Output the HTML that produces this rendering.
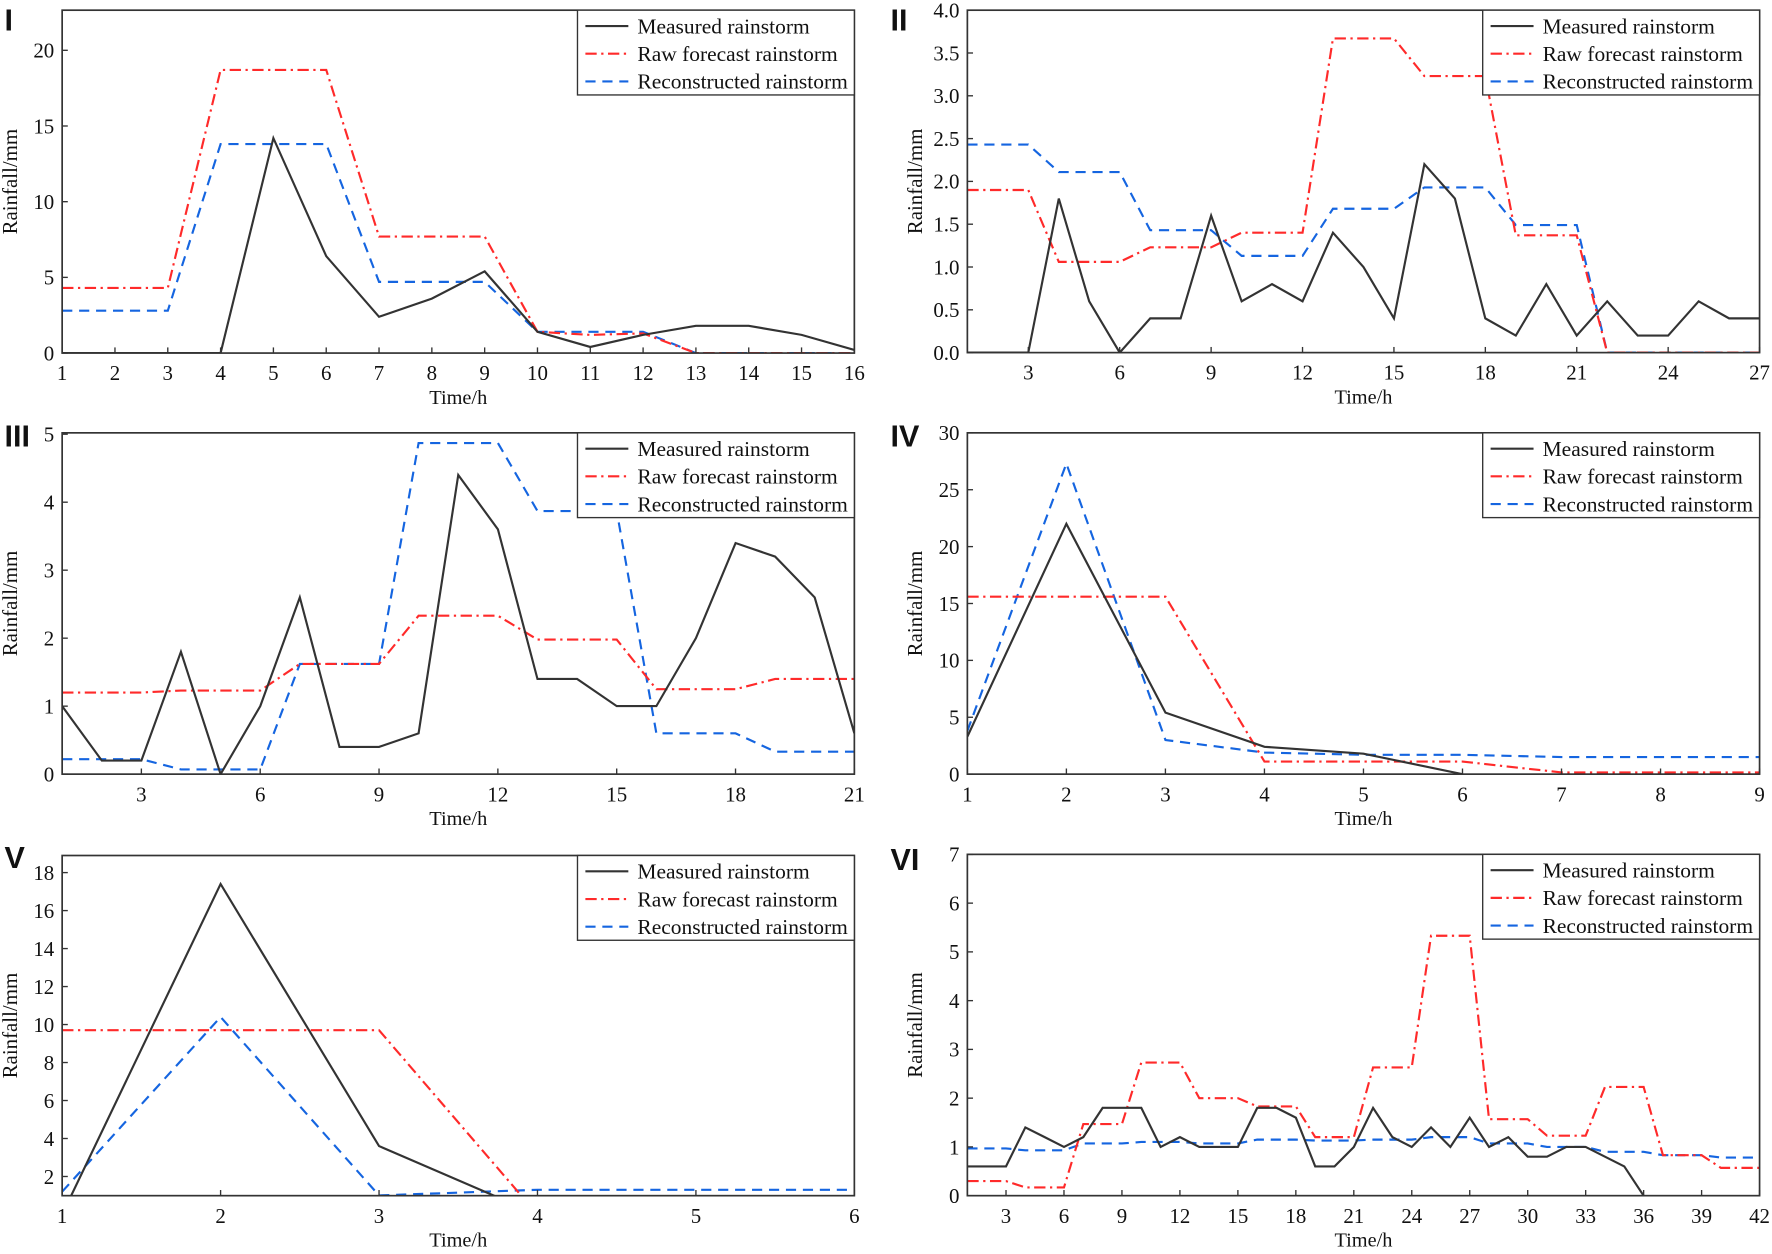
<!DOCTYPE html>
<html><head><meta charset="utf-8"><style>
html,body{margin:0;padding:0;background:#fff;}
svg{display:block;}
text{font-family:"Liberation Serif",serif;fill:#111;}
.pl{font-family:"Liberation Sans",sans-serif;font-weight:bold;font-size:27px;}
</style></head><body>
<svg id="s" width="1772" height="1254" viewBox="0 0 1568 1109.6" xmlns="http://www.w3.org/2000/svg"></svg>
<script>
const NS="http://www.w3.org/2000/svg",S=document.getElementById('s');
function el(t,a,txt){const e=document.createElementNS(NS,t);for(const k in a)e.setAttribute(k,a[k]);if(txt!==undefined)e.textContent=txt;S.appendChild(e);return e;}
function rep(a){let o=[];for(const [v,n] of a)for(let i=0;i<n;i++)o.push(v);return o;}
const C={m:'#333',r:'#ff2a2a',b:'#1565e0'};
const D={m:null,r:'10,4,2,4',b:'9,6'};
const panels=[
{lab:'I',lx:4,ly:27,L:55,R:756,T:9,B:312.4,x0:1,x1:16,y0:0,y1:22.65,xt:[1,2,3,4,5,6,7,8,9,10,11,12,13,14,15,16],yt:[0,5,10,15,20],dec:0,
 m:[0,0,0,0,14.2,6.4,2.4,3.6,5.4,1.4,0.4,1.2,1.8,1.8,1.2,0.2],
 r:rep([[4.3,3],[18.7,3],[7.7,3]]).concat([1.4,1.2,1.3,0,0,0,0]),
 b:rep([[2.8,3],[13.8,3],[4.7,3],[1.4,3],[0,4]])},
{lab:'II',lx:788,ly:27,L:856,R:1557,T:9,B:312,x0:1,x1:27,y0:0,y1:4,xt:[3,6,9,12,15,18,21,24,27],yt:[0,0.5,1,1.5,2,2.5,3,3.5,4],dec:1,
 m:[0,0,0,1.8,0.6,0,0.4,0.4,1.6,0.6,0.8,0.6,1.4,1.0,0.4,2.2,1.8,0.4,0.2,0.8,0.2,0.6,0.2,0.2,0.6,0.4,0.4],
 r:rep([[1.9,3],[1.06,3],[1.23,3],[1.4,3],[3.67,3],[3.23,3],[1.37,3],[0,6]]),
 b:rep([[2.43,3],[2.11,3],[1.43,3],[1.13,3],[1.68,3],[1.93,3],[1.49,3],[0,6]])},
{lab:'III',lx:4,ly:395,L:55,R:756,T:383,B:685,x0:1,x1:21,y0:0,y1:5.02,xt:[3,6,9,12,15,18,21],yt:[0,1,2,3,4,5],dec:0,
 m:[1.0,0.2,0.2,1.8,0,1.0,2.6,0.4,0.4,0.6,4.4,3.6,1.4,1.4,1.0,1.0,2.0,3.4,3.2,2.6,0.6],
 r:rep([[1.2,3],[1.23,3],[1.62,3],[2.33,3],[1.98,3],[1.25,3],[1.4,3]]),
 b:rep([[0.22,3],[0.07,3],[1.62,3],[4.87,3],[3.87,3],[0.6,3],[0.33,3]])},
{lab:'IV',lx:788,ly:395,L:856,R:1557,T:383,B:685,x0:1,x1:9,y0:0,y1:30,xt:[1,2,3,4,5,6,7,8,9],yt:[0,5,10,15,20,25,30],dec:0,
 m:[3.3,22,5.4,2.4,1.8,0],
 r:[15.6,15.6,15.6,1.1,1.1,1.1,0.15,0.15,0.15],
 b:[3.8,27.3,3.0,1.9,1.7,1.7,1.5,1.5,1.5]},
{lab:'V',lx:4,ly:768,L:55,R:756,T:757,B:1058,x0:1,x1:6,y0:0.99,y1:18.9,xt:[1,2,3,4,5,6],yt:[2,4,6,8,10,12,14,16,18],dec:0,
 m:[0,17.4,3.6,0],
 r:[9.7,9.7,9.7,0],
 b:[1.2,10.4,1.0,1.3,1.3,1.3]},
{lab:'VI',lx:788,ly:770,L:856,R:1557,T:756,B:1058,x0:1,x1:42,y0:0,y1:7,xt:[3,6,9,12,15,18,21,24,27,30,33,36,39,42],yt:[0,1,2,3,4,5,6,7],dec:0,
 m:[0.6,0.6,0.6,1.4,1.2,1.0,1.2,1.8,1.8,1.8,1.0,1.2,1.0,1.0,1.0,1.8,1.8,1.6,0.6,0.6,1.0,1.8,1.2,1.0,1.4,1.0,1.6,1.0,1.2,0.8,0.8,1.0,1.0,0.8,0.6,0],
 r:rep([[0.3,3],[0.17,3],[1.47,3],[2.73,3],[2.0,3],[1.83,3],[1.2,3],[2.63,3],[5.33,3],[1.57,3],[1.23,3],[2.23,3],[0.83,3],[0.57,3]]),
 b:rep([[0.97,3],[0.93,3],[1.07,3],[1.1,3],[1.07,3],[1.15,3],[1.13,3],[1.15,3],[1.2,3],[1.07,3],[1.0,3],[0.9,3],[0.83,3],[0.78,3]])}
];
panels.forEach((p,i)=>{
 const X=v=>p.L+(v-p.x0)/(p.x1-p.x0)*(p.R-p.L), Y=v=>p.B-(v-p.y0)/(p.y1-p.y0)*(p.B-p.T);
 const cid='c'+i;
 const cp=el('clipPath',{id:cid});const rc=document.createElementNS(NS,'rect');
 rc.setAttribute('x',p.L);rc.setAttribute('y',p.T);rc.setAttribute('width',p.R-p.L);rc.setAttribute('height',p.B-p.T);cp.appendChild(rc);
 ['b','r','m'].forEach(k=>{
  const pts=p[k].map((v,j)=>X(p.x0+j).toFixed(1)+','+Y(v).toFixed(1)).join(' ');
  const a={points:pts,fill:'none',stroke:C[k],'stroke-width':1.9,'clip-path':'url(#'+cid+')'};
  if(D[k])a['stroke-dasharray']=D[k];
  el('polyline',a);
 });
 el('rect',{x:p.L,y:p.T,width:p.R-p.L,height:p.B-p.T,fill:'none',stroke:'#333','stroke-width':1.5});
 p.xt.forEach(v=>{const x=X(v);el('line',{x1:x,y1:p.B,x2:x,y2:p.B-5,stroke:'#333','stroke-width':1.2});
  el('text',{x:x,y:p.B+24,'text-anchor':'middle','font-size':18.5},String(v));});
 p.yt.forEach(v=>{const y=Y(v);el('line',{x1:p.L,y1:y,x2:p.L+5,y2:y,stroke:'#333','stroke-width':1.2});
  el('text',{x:p.L-7,y:y+6.5,'text-anchor':'end','font-size':18.5},v.toFixed(p.dec));});
 el('text',{x:(p.L+p.R)/2,y:p.B+45,'text-anchor':'middle','font-size':18},'Time/h');
 const cy=(p.T+p.B)/2, ax=p.L-40;
 el('text',{x:ax,y:cy,'text-anchor':'middle','font-size':18.5,transform:'rotate(-90 '+ax+' '+cy+')'},'Rainfall/mm');
 el('text',{x:p.lx,y:p.ly,class:'pl'},p.lab);
 const lx=p.R-245, ly=p.T;
 el('rect',{x:lx,y:ly,width:245,height:75,fill:'#fff',stroke:'#333','stroke-width':1.2});
 [['m','Measured rainstorm'],['r','Raw forecast rainstorm'],['b','Reconstructed rainstorm']].forEach(([k,t],j)=>{
  const y=ly+14+j*24.5;
  const a={x1:lx+7,y1:y,x2:lx+45,y2:y,stroke:C[k],'stroke-width':1.9};if(D[k])a['stroke-dasharray']=D[k];
  el('line',a);
  el('text',{x:lx+53,y:y+6.5,'font-size':19},t);
 });
});
</script>
</body></html>
